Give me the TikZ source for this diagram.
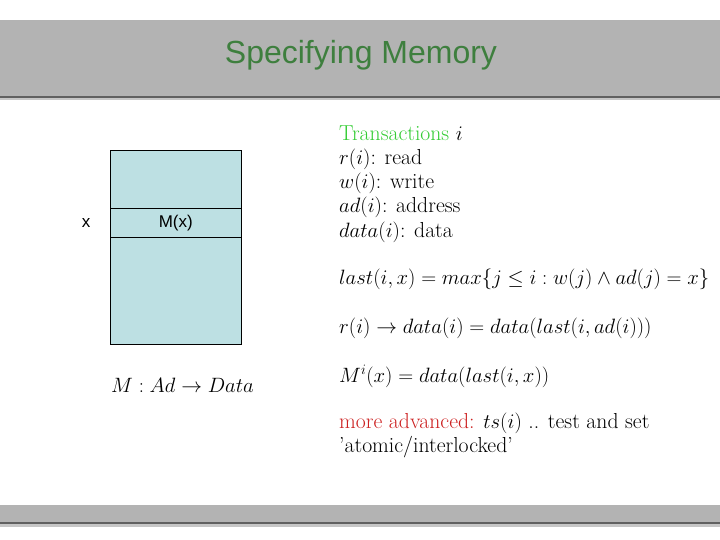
\documentclass[tikz,border=0pt]{standalone}
\usepackage{fontspec}
\newfontfamily\arialfont{Liberation Sans}
\usetikzlibrary{positioning}

\definecolor{barcol}{HTML}{B3B3B3}
\definecolor{titlecol}{HTML}{3E7F3E}
\definecolor{memcol}{HTML}{BDE0E3}
\definecolor{transcol}{HTML}{33CC33}
\definecolor{advcol}{HTML}{CC2020}

\begin{document}
\begin{tikzpicture}[
    x=1pt, y=-1pt,
    cell/.style={draw=black, fill=memcol, minimum width=131pt, minimum height=#1, inner sep=0pt, line width=0.5pt},
    txt/.style={anchor=base west, inner sep=0pt, font=\fontsize{21.7}{26}\selectfont}
]

\useasboundingbox (0,0) rectangle (720,540);

% ── Title bar ────────────────────────────────────────────────────────────────
\fill[barcol] (0,20) rectangle (720,96);
\fill[gray!75!black] (0,96) rectangle (720,98);
\fill[gray!45] (0,98) rectangle (720,100);
\node[font=\arialfont\fontsize{32}{37}\selectfont, text=titlecol] (title) at (361,55) {Specifying Memory};

% ── Memory cells ─────────────────────────────────────────────────────────────
\node[cell=58pt, anchor=north west] (memtop) at (110,150) {};
\node[cell=28pt, below=0pt of memtop, font=\arialfont\fontsize{17}{20}\selectfont] (memx) {M(x)};
\node[cell=107pt, below=0pt of memx] (membot) {};
\node[font=\arialfont\fontsize{17}{20}\selectfont, left=16pt of memx] (addr) {x};
\node[font=\fontsize{21.7}{26}\selectfont, anchor=base west, inner sep=0pt] (mapping) at (111,392) {$M : Ad \rightarrow Data$};

% ── Transactions ─────────────────────────────────────────────────────────────
\node[txt] (trans) at (339,141) {\textcolor{transcol}{Transactions} $i$};
\node[txt] (read) at (339,165) {$r(i)$: read};
\node[txt] (write) at (339,189) {$w(i)$: write};
\node[txt] (adr) at (339,213) {$ad(i)$: address};
\node[txt] (dat) at (339,237) {$data(i)$: data};

% ── Definitions ──────────────────────────────────────────────────────────────
\node[txt] (last) at (339,284) {$last(i,x) = max\{j \leq i : w(j) \wedge ad(j) = x\}$};
\node[txt] (rdef) at (339,333) {$r(i) \rightarrow data(i) = data(last(i,ad(i)))$};
\node[txt] (mdef) at (339,382) {$M^i(x) = data(last(i,x))$};
\node[txt] (adv) at (339,428) {\textcolor{advcol}{more advanced:} $ts(i)$ .. test and set};
\node[txt] (atom) at (339,452) {'atomic/interlocked'};

% ── Bottom bar ───────────────────────────────────────────────────────────────
\fill[barcol] (0,505) rectangle (720,522);
\fill[gray!75!black] (0,522) rectangle (720,524);
\fill[gray!45] (0,524) rectangle (720,527);

\end{tikzpicture}
\end{document}
